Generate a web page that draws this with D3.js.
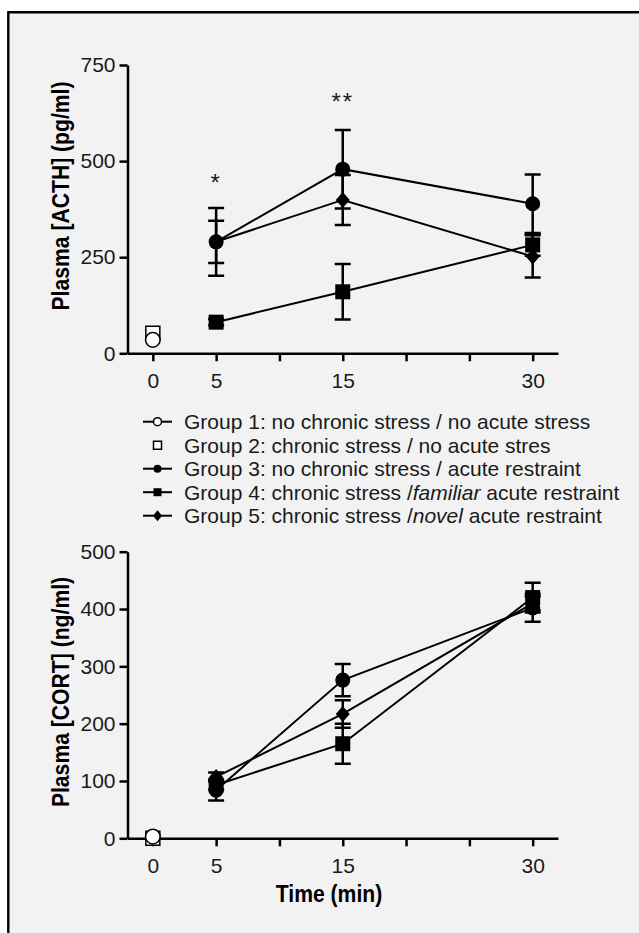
<!DOCTYPE html>
<html>
<head>
<meta charset="utf-8">
<script src="https://cdnjs.cloudflare.com/ajax/libs/d3/7.8.5/d3.min.js"></script>
<style>
	body { margin: 0; background: #fff; }
	text { font-family: "Liberation Sans", Arial, sans-serif; fill: #1a1a1a; }
	.title { font-family: "Liberation Sans", Arial, sans-serif; font-weight: bold; font-size: 23px; fill: #000; }
</style>
</head>
<body>
<script>
// time points (min) measured after acute stress
const TIMES = [5, 15, 30]
const X_TICKS = [0, 5, 10, 15, 20, 25, 30]
const X_LABELS = [0, 5, 15, 30]
const ACTH_TICKS = [0, 250, 500, 750]
const CORT_TICKS = [0, 100, 200, 300, 400, 500]

// ACTH (pg/ml): groups 1 and 2 only at time 0
const acthBase = [35, 52]
const acthG3 = [290, 479, 389]
const acthG3Err = [88, 102, 76]
const acthG4 = [81, 160, 282]
const acthG4Err = [8, 72, 28]
const acthG5 = [290, 399, 252]
const acthG5Err = [55, 65, 55]
const acthSigTimes = [5, 15]
const acthSigMarks = ["*", "**"]
const acthSigLevel = [421, 634]

// CORT (ng/ml)
const cortBase = [3, 0]
const cortG3 = [84, 276, 402]
const cortG3Err = [18, 28, 24]
const cortG4 = [93, 165, 420]
const cortG4Err = [8, 35, 26]
const cortG5 = [107, 217, 410]
const cortG5Err = [8, 24, 12]

const legendLabels = [
	["Group 1: no chronic stress / no acute stress", "", ""],
	["Group 2: chronic stress / no acute stres", "", ""],
	["Group 3: no chronic stress / acute restraint", "", ""],
	["Group 4: chronic stress /", "familiar", " acute restraint"],
	["Group 5: chronic stress /", "novel", " acute restraint"]
]

const WIDTH = 639
const HEIGHT = 933

const svg = d3.select("body").append("svg")
	.attr("width", WIDTH)
	.attr("height", HEIGHT)

// panel background + frame (top and left edges only)
svg.append("rect")
	.attr("x", 8).attr("y", 12)
	.attr("width", WIDTH - 8).attr("height", HEIGHT - 12)
	.attr("fill", "#f2f2f2")
svg.append("path")
	.attr("d", `M8.3,${HEIGHT}V12.3H${WIDTH}`)
	.attr("fill", "none")
	.attr("stroke", "#000")
	.attr("stroke-width", 2.4)

const x = d3.scaleLinear().domain([-2, 32]).range([127.5, 558])

// marker shapes
function shape(type, s) {
	if (type === "circle") return d3.symbol(d3.symbolCircle, Math.PI * s * s)()
	if (type === "square") return `M${-s},${-s}h${2 * s}v${2 * s}h${-2 * s}Z`
	if (type === "diamond") return `M0,${-s - 1}L${s},0L0,${s + 1}L${-s},0Z`
	return ""
}

function drawPanel(opts) {
	const y = d3.scaleLinear().domain(opts.domain).range(opts.range)
	const g = svg.append("g")

	// axes
	const yAxis = g.append("g")
		.attr("transform", `translate(${x.range()[0]}, 0)`)
		.call(d3.axisLeft(y).tickValues(opts.yTicks).tickSize(8).tickSizeOuter(0).tickPadding(4))
	const xAxis = g.append("g")
		.attr("transform", `translate(0, ${opts.range[0]})`)
		.call(d3.axisBottom(x).tickValues(X_TICKS).tickSize(8).tickSizeOuter(0).tickPadding(12)
			.tickFormat(d => X_LABELS.includes(d) ? d : ""))
	;[xAxis, yAxis].forEach(a => {
		a.select(".domain").attr("stroke", "#000").attr("stroke-width", 2.5)
		a.selectAll(".tick line").attr("stroke", "#000").attr("stroke-width", 2.5)
		a.selectAll(".tick text").attr("font-size", 21).attr("fill", "#1a1a1a")
			.attr("font-family", "Liberation Sans, Arial, sans-serif")
	})

	// y title (slightly condensed bold)
	g.append("text")
		.attr("class", "title")
		.attr("transform", `translate(69, ${opts.titleY}) rotate(-90) scale(0.92, 1)`)
		.attr("text-anchor", "middle")
		.text(opts.title)

	const line = d3.line()
		.x((d, i) => x(TIMES[i]))
		.y(d => y(d))

	// connecting lines
	opts.groups.forEach(gr => {
		g.append("path")
			.attr("d", line(gr.mean))
			.attr("fill", "none")
			.attr("stroke", "#000")
			.attr("stroke-width", 2)
	})

	// error bars
	opts.groups.forEach(gr => {
		gr.mean.forEach((m, i) => {
			const cx = x(TIMES[i])
			const lo = y(m - gr.err[i])
			const hi = y(m + gr.err[i])
			g.append("path")
				.attr("d", `M${cx},${lo}V${hi}M${cx - 8},${lo}H${cx + 8}M${cx - 8},${hi}H${cx + 8}`)
				.attr("fill", "none")
				.attr("stroke", "#000")
				.attr("stroke-width", 2.5)
		})
	})

	// filled markers
	opts.groups.forEach(gr => {
		gr.mean.forEach((m, i) => {
			g.append("path")
				.attr("transform", `translate(${x(TIMES[i])}, ${y(m)})`)
				.attr("d", shape(gr.shape, gr.shape === "diamond" ? 7 : 7.5))
				.attr("fill", "#000")
		})
	})

	// open markers at time 0 (group 2 square below group 1 circle)
	g.append("path")
		.attr("transform", `translate(${x(0)}, ${y(opts.base[1])})`)
		.attr("d", shape("square", 7))
		.attr("fill", "#fff").attr("stroke", "#000").attr("stroke-width", 1.5)
	g.append("path")
		.attr("transform", `translate(${x(0)}, ${y(opts.base[0])})`)
		.attr("d", shape("circle", 7.3))
		.attr("fill", "#fff").attr("stroke", "#000").attr("stroke-width", 1.5)

	// significance marks
	;(opts.sigTimes || []).forEach((t, i) => {
		g.append("text")
			.attr("x", x(t))
			.attr("y", y(opts.sigLevel[i]))
			.attr("text-anchor", "middle")
			.attr("font-size", 24)
			.attr("letter-spacing", 2)
			.attr("fill", "#000")
			.text(opts.sigMarks[i])
	})
	return g
}

drawPanel({
	domain: [0, 750],
	range: [353.3, 65],
	yTicks: ACTH_TICKS,
	title: "Plasma [ACTH] (pg/ml)",
	titleY: 196,
	base: acthBase,
	groups: [
		{ shape: "circle", mean: acthG3, err: acthG3Err },
		{ shape: "diamond", mean: acthG5, err: acthG5Err },
		{ shape: "square", mean: acthG4, err: acthG4Err }
	],
	sigTimes: acthSigTimes,
	sigMarks: acthSigMarks,
	sigLevel: acthSigLevel
})

drawPanel({
	domain: [0, 500],
	range: [838.3, 551.7],
	yTicks: CORT_TICKS,
	title: "Plasma [CORT] (ng/ml)",
	titleY: 692,
	base: cortBase,
	groups: [
		{ shape: "circle", mean: cortG3, err: cortG3Err },
		{ shape: "diamond", mean: cortG5, err: cortG5Err },
		{ shape: "square", mean: cortG4, err: cortG4Err }
	]
})

// x title
svg.append("text")
	.attr("class", "title")
	.attr("transform", "translate(329, 902) scale(0.92, 1)")
	.attr("text-anchor", "middle")
	.text("Time (min)")

// legend
const legendShapes = ["circle", "square", "circle", "square", "diamond"]
const legendFill = ["#fff", "#fff", "#000", "#000", "#000"]
const legendLine = [true, false, true, true, true]
const legend = svg.append("g")
legendLabels.forEach((lab, i) => {
	const ly = 421.7 + i * 23.5
	if (legendLine[i]) {
		legend.append("line")
			.attr("x1", 143).attr("x2", 172)
			.attr("y1", ly).attr("y2", ly)
			.attr("stroke", "#000").attr("stroke-width", 2)
	}
	legend.append("path")
		.attr("transform", `translate(157.5, ${ly})`)
		.attr("d", shape(legendShapes[i], legendShapes[i] === "diamond" ? 4.5 : 4))
		.attr("fill", legendFill[i])
		.attr("stroke", "#000")
		.attr("stroke-width", legendFill[i] === "#fff" ? 1.5 : 0)
	const t = legend.append("text")
		.attr("x", 184)
		.attr("y", ly + 7.5)
		.attr("font-size", 21)
	t.append("tspan").text(lab[0])
	if (lab[1]) {
		t.append("tspan").attr("font-style", "italic").text(lab[1])
		t.append("tspan").text(lab[2])
	}
})
</script>
</body>
</html>
